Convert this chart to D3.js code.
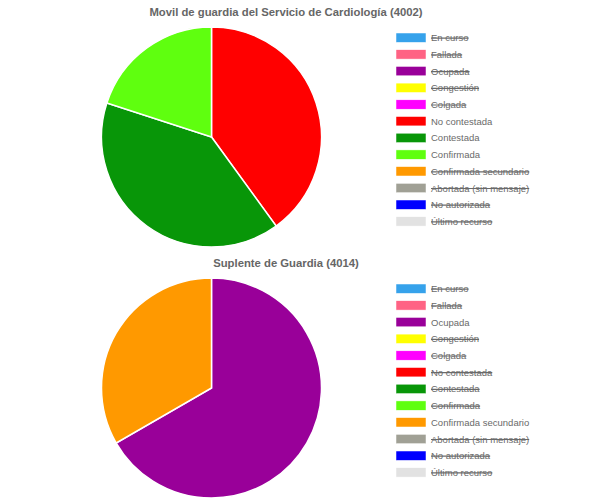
<!DOCTYPE html>
<html>
<head>
<meta charset="utf-8">
<script src="https://cdn.jsdelivr.net/npm/d3@7"></script>
<style>
html,body{margin:0;padding:0;background:#fff;}
svg{display:block;}
text{font-family:"Liberation Sans",Arial,sans-serif;}
</style>
</head>
<body>
<svg id="chart" width="600" height="503"></svg>
<script>
const categories = ["En curso","Fallada","Ocupada","Congestión","Colgada","No contestada","Contestada","Confirmada","Confirmada secundario","Abortada (sin mensaje)","No autorizada","Último recurso"];
const colors = ["#36a2eb","#ff6384","#990099","#ffff00","#ff00ff","#ff0000","#089608","#5fff0f","#ff9900","#a0a095","#0000ff","#e2e2e2"];
const titles = ["Movil de guardia del Servicio de Cardiología (4002)","Suplente de Guardia (4014)"];
const valuesCardiologia = [0,0,0,0,0,2,2,1,0,0,0,0];
const valuesSuplente = [0,0,2,0,0,0,0,0,1,0,0,0];

const charts = [
  {title:titles[0], values:valuesCardiologia, top:0},
  {title:titles[1], values:valuesSuplente, top:251}
];

const svg = d3.select("#chart");
const color = d3.scaleOrdinal().domain(categories).range(colors);
const pie = d3.pie().sort(null).value(d => d.value);

charts.forEach(ch => {
  const g = svg.append("g").attr("transform", `translate(0,${ch.top})`);
  g.append("text")
    .attr("x", 286).attr("y", 12)
    .attr("text-anchor","middle").attr("dominant-baseline","central")
    .attr("font-size", 11.3).attr("font-weight","bold").attr("fill","#666")
    .text(ch.title);

  const data = categories.map((c,i) => ({cat:c, value:ch.values[i]}));
  const radius = 110;
  const arc = d3.arc().innerRadius(0).outerRadius(radius);
  const pg = g.append("g").attr("transform", "translate(211.5,137)");
  pg.selectAll("path").data(pie(data).filter(d => d.data.value > 0)).join("path")
    .attr("d", arc)
    .attr("fill", d => color(d.data.cat))
    .attr("stroke","#fff").attr("stroke-width",1.5);

  const y = d3.scalePoint().domain(categories).range([37.7, 37.7 + 11*16.7]);
  const lg = g.append("g");
  const items = lg.selectAll("g").data(data).join("g")
    .attr("transform", d => `translate(0,${y(d.cat)})`);
  items.append("rect")
    .attr("x",396).attr("y",-4.7).attr("width",30).attr("height",9.4)
    .attr("fill", d => color(d.cat)).attr("stroke","#fff").attr("stroke-width",0.5);
  const txt = items.append("text")
    .attr("x",431).attr("y",0).attr("dominant-baseline","central")
    .attr("font-size",9.5).attr("fill","#6a6a6a")
    .text(d => d.cat);
  txt.each(function(d){
    if (d.value === 0) {
      const w = this.getComputedTextLength();
      d3.select(this.parentNode).append("line")
        .attr("x1",431).attr("x2",431+w).attr("y1",0.5).attr("y2",0.5)
        .attr("stroke","#6a6a6a").attr("stroke-width",1.2);
    }
  });
});
</script>
</body>
</html>
